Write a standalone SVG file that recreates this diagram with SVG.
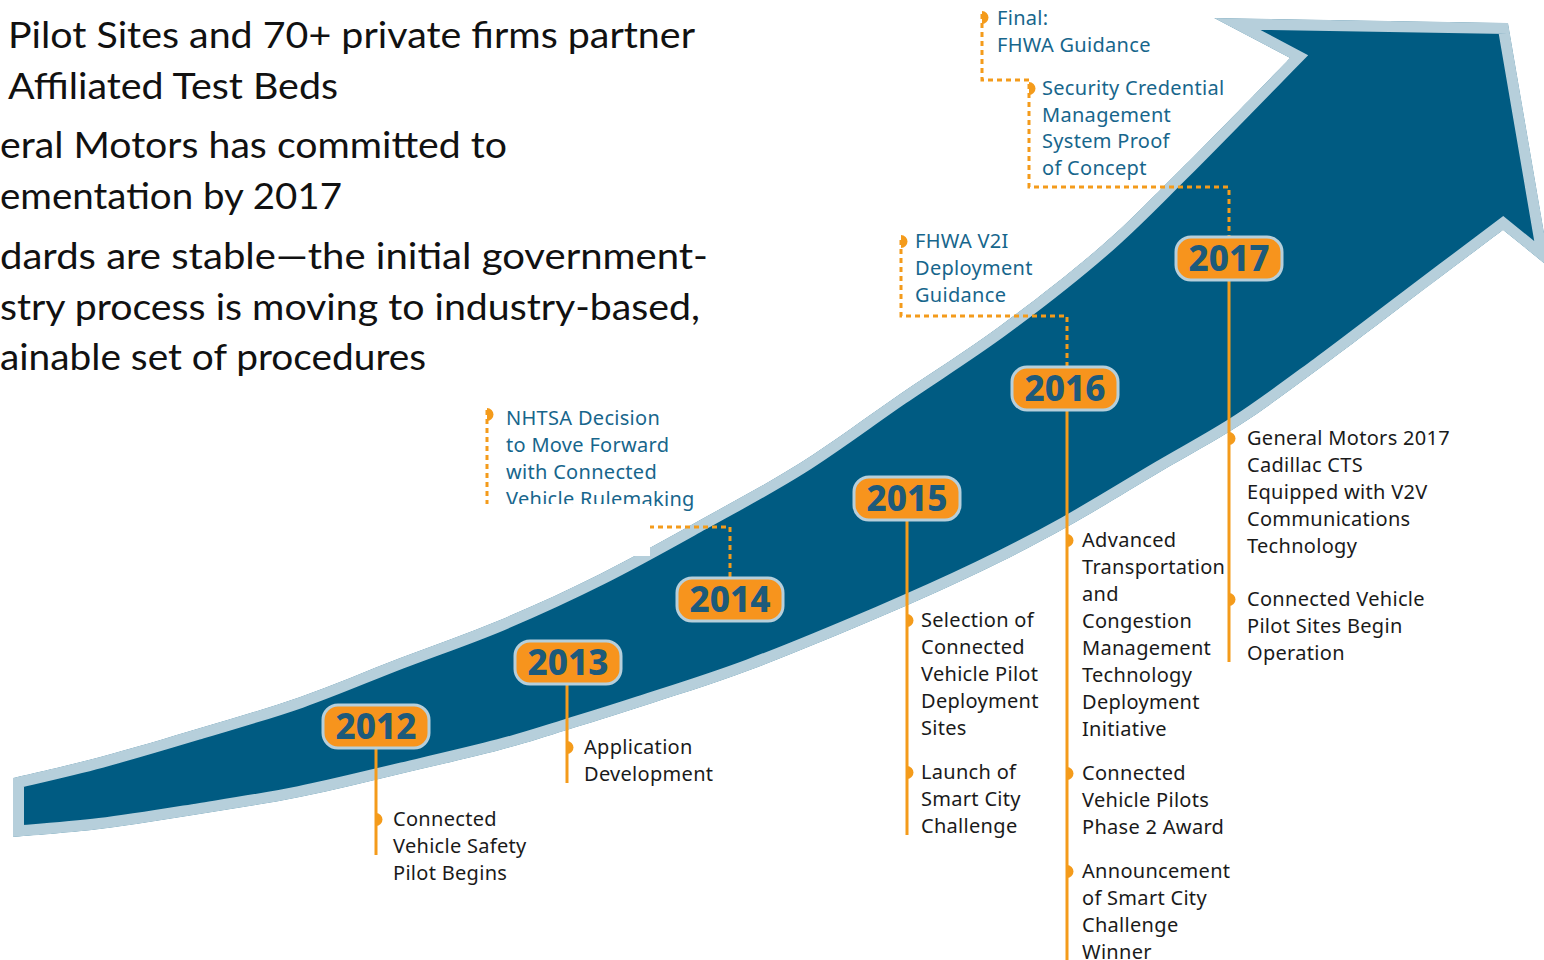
<svg xmlns="http://www.w3.org/2000/svg" width="1544" height="960" viewBox="0 0 1544 960">
<style>
.intro{font-family:Lato,"Liberation Sans",sans-serif;font-size:36px;fill:#111}
.lbl{font-family:"Noto Sans","Liberation Sans",sans-serif;font-size:20px;letter-spacing:0.3px;fill:#1a1a1a}
.top{fill:#17668c}
.yr rect{fill:#f7941d;stroke:#b6cfdb;stroke-width:3}
.yr text{font-family:"Noto Sans","Liberation Sans",sans-serif;font-weight:800;font-size:35px;fill:#1d5a7a;text-anchor:middle}
.solid{stroke:#f49b1b;stroke-width:3;fill:none}
.dot{stroke:#f49b1b;stroke-width:3;fill:none;stroke-dasharray:5 4}
.bul{fill:#f49b1b}
</style>
<defs>
<path id="arrow" d="M13,778 C27.5,774.5 68.8,765.3 100,757 C131.2,748.7 166.7,738 200,728 C233.3,718 266.7,708.7 300,697 C333.3,685.3 366.7,670.8 400,658 C433.3,645.2 466.7,634 500,620 C533.3,606 566.7,590.7 600,574 C633.3,557.3 666.7,538.5 700,520 C733.3,501.5 766.7,484 800,463 C833.3,442 866.7,416.8 900,394 C933.3,371.2 966.7,350.5 1000,326 C1033.3,301.5 1070,273 1100,247 C1130,221 1148.3,201.5 1180,170 C1211.7,138.5 1271.7,76.7 1290,58 L1214,18 L1508,23 L1550,268 L1503,230 C1487.5,241.7 1440.5,277 1410,300 C1379.5,323 1348.3,347.2 1320,368 C1291.7,388.8 1266.7,407.7 1240,425 C1213.3,442.3 1188.8,455 1160,472 C1131.2,489 1097,510.3 1067,527 C1037,543.7 1011.2,557 980,572 C948.8,587 918.3,600.7 880,617 C841.7,633.3 790,655 750,670 C710,685 670.5,697 640,707 C609.5,717 590.3,722.8 567,730 C543.7,737.2 527.8,742.7 500,750 C472.2,757.3 433.3,766.2 400,774 C366.7,781.8 333.3,790.3 300,797 C266.7,803.7 233.3,808.7 200,814 C166.7,819.3 131.2,825.2 100,829 C68.8,832.8 27.5,835.7 13,837 Z"/>
<clipPath id="ac"><use href="#arrow"/></clipPath>
</defs>

<g id="intro-text">
<text class="intro" x="8" y="48" textLength="687" lengthAdjust="spacingAndGlyphs">Pilot Sites and 70+ private firms partner</text>
<text class="intro" x="8" y="99" textLength="330" lengthAdjust="spacingAndGlyphs">Affiliated Test Beds</text>
<text class="intro" x="0" y="158" textLength="507" lengthAdjust="spacingAndGlyphs">eral Motors has committed to</text>
<text class="intro" x="0" y="209" textLength="342" lengthAdjust="spacingAndGlyphs">ementation by 2017</text>
<text class="intro" x="0" y="269" textLength="708" lengthAdjust="spacingAndGlyphs">dards are stable—the initial government-</text>
<text class="intro" x="0" y="320" textLength="700" lengthAdjust="spacingAndGlyphs">stry process is moving to industry-based,</text>
<text class="intro" x="0" y="370" textLength="426" lengthAdjust="spacingAndGlyphs">ainable set of procedures</text>
</g>

<g id="arrow-band">
<use href="#arrow" fill="#005b82" stroke="#b6cfdb" stroke-width="22" clip-path="url(#ac)"/>
</g>

<g id="connectors">
<line class="solid" x1="376" y1="748" x2="376" y2="855"/>
<line class="solid" x1="567" y1="684" x2="567" y2="783"/>
<line class="solid" x1="907" y1="520" x2="907" y2="835"/>
<line class="solid" x1="1067" y1="410" x2="1067" y2="960"/>
<line class="solid" x1="1229" y1="280" x2="1229" y2="662"/>
<path class="dot" d="M487,410 V527 H730 V578"/>
<path class="dot" d="M901,240 V316 H1067 V367"/>
<path class="dot" d="M982,14 V80 H1029 V187 H1229 V237"/>
</g>

<g id="node-nhtsa">
<path class="bul" d="M487,408 A6.5,6.5 0 0 1 487,421 Z"/>
<text class="lbl top"><tspan x="506" y="425">NHTSA Decision</tspan><tspan x="506" y="452">to Move Forward</tspan><tspan x="506" y="479">with Connected</tspan><tspan x="506" y="506">Vehicle Rulemaking</tspan></text>
<rect x="440" y="504" width="210" height="52" fill="#fff"/>
</g>

<g id="node-final">
<path class="bul" d="M982,11 A6.5,6.5 0 0 1 982,24 Z"/>
<text class="lbl top"><tspan x="997" y="25">Final:</tspan><tspan x="997" y="52">FHWA Guidance</tspan></text>
</g>

<g id="node-scms">
<path class="bul" d="M1029,82 A6.5,6.5 0 0 1 1029,95 Z"/>
<text class="lbl top"><tspan x="1042" y="95">Security Credential</tspan><tspan x="1042" y="122">Management</tspan><tspan x="1042" y="148">System Proof</tspan><tspan x="1042" y="175">of Concept</tspan></text>
</g>

<g id="node-v2i">
<path class="bul" d="M901,235 A6.5,6.5 0 0 1 901,248 Z"/>
<text class="lbl top"><tspan x="915" y="248">FHWA V2I</tspan><tspan x="915" y="275">Deployment</tspan><tspan x="915" y="302">Guidance</tspan></text>
</g>

<g id="y2012" class="yr"><rect x="323" y="705" width="106" height="43" rx="15"/><text x="376" y="739">2012</text></g>
<g id="y2013" class="yr"><rect x="515" y="641" width="106" height="43" rx="15"/><text x="568" y="675">2013</text></g>
<g id="y2014" class="yr"><rect x="677" y="578" width="106" height="43" rx="15"/><text x="730" y="612">2014</text></g>
<g id="y2015" class="yr"><rect x="854" y="477" width="106" height="43" rx="15"/><text x="907" y="511">2015</text></g>
<g id="y2016" class="yr"><rect x="1012" y="367" width="106" height="43" rx="15"/><text x="1065" y="401">2016</text></g>
<g id="y2017" class="yr"><rect x="1176" y="237" width="106" height="43" rx="15"/><text x="1229" y="271">2017</text></g>

<g id="node-2012">
<path class="bul" d="M376,813 A6.5,6.5 0 0 1 376,826 Z"/>
<text class="lbl"><tspan x="393" y="826">Connected</tspan><tspan x="393" y="853">Vehicle Safety</tspan><tspan x="393" y="880">Pilot Begins</tspan></text>
</g>

<g id="node-2013">
<path class="bul" d="M567,741 A6.5,6.5 0 0 1 567,754 Z"/>
<text class="lbl"><tspan x="584" y="754">Application</tspan><tspan x="584" y="781">Development</tspan></text>
</g>

<g id="node-2015a">
<path class="bul" d="M907,614 A6.5,6.5 0 0 1 907,627 Z"/>
<text class="lbl"><tspan x="921" y="627">Selection of</tspan><tspan x="921" y="654">Connected</tspan><tspan x="921" y="681">Vehicle Pilot</tspan><tspan x="921" y="708">Deployment</tspan><tspan x="921" y="735">Sites</tspan></text>
</g>
<g id="node-2015b">
<path class="bul" d="M907,766 A6.5,6.5 0 0 1 907,779 Z"/>
<text class="lbl"><tspan x="921" y="779">Launch of</tspan><tspan x="921" y="806">Smart City</tspan><tspan x="921" y="833">Challenge</tspan></text>
</g>

<g id="node-2016a">
<path class="bul" d="M1067,534 A6.5,6.5 0 0 1 1067,547 Z"/>
<text class="lbl"><tspan x="1082" y="547">Advanced</tspan><tspan x="1082" y="574">Transportation</tspan><tspan x="1082" y="601">and</tspan><tspan x="1082" y="628">Congestion</tspan><tspan x="1082" y="655">Management</tspan><tspan x="1082" y="682">Technology</tspan><tspan x="1082" y="709">Deployment</tspan><tspan x="1082" y="736">Initiative</tspan></text>
</g>
<g id="node-2016b">
<path class="bul" d="M1067,767 A6.5,6.5 0 0 1 1067,780 Z"/>
<text class="lbl"><tspan x="1082" y="780">Connected</tspan><tspan x="1082" y="807">Vehicle Pilots</tspan><tspan x="1082" y="834">Phase 2 Award</tspan></text>
</g>
<g id="node-2016c">
<path class="bul" d="M1067,865 A6.5,6.5 0 0 1 1067,878 Z"/>
<text class="lbl"><tspan x="1082" y="878">Announcement</tspan><tspan x="1082" y="905">of Smart City</tspan><tspan x="1082" y="932">Challenge</tspan><tspan x="1082" y="959">Winner</tspan></text>
</g>

<g id="node-2017a">
<path class="bul" d="M1229,432 A6.5,6.5 0 0 1 1229,445 Z"/>
<text class="lbl"><tspan x="1247" y="445">General Motors 2017</tspan><tspan x="1247" y="472">Cadillac CTS</tspan><tspan x="1247" y="499">Equipped with V2V</tspan><tspan x="1247" y="526">Communications</tspan><tspan x="1247" y="553">Technology</tspan></text>
</g>
<g id="node-2017b">
<path class="bul" d="M1229,593 A6.5,6.5 0 0 1 1229,606 Z"/>
<text class="lbl"><tspan x="1247" y="606">Connected Vehicle</tspan><tspan x="1247" y="633">Pilot Sites Begin</tspan><tspan x="1247" y="660">Operation</tspan></text>
</g>
</svg>
